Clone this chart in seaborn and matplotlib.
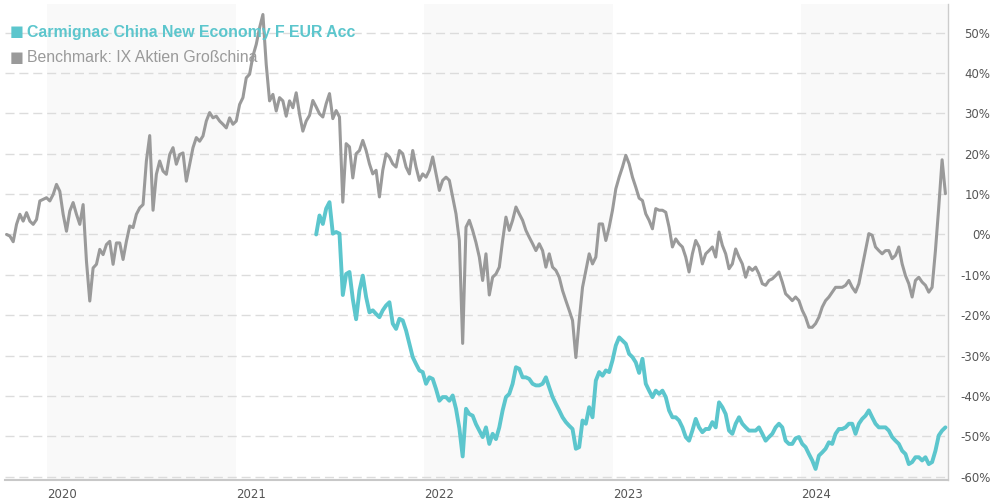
import pandas as pd
import matplotlib.pyplot as plt
import seaborn as sns

bench_start = "2019-10-14"
bench_end = "2024-10-07"
bench_vals = [
    0.0, -0.4, -1.8, 2.5, 5.0, 3.3, 5.4, 3.3, 2.5, 3.7,
    8.3, 8.7, 9.1, 8.3, 9.9, 12.4, 10.7, 5.0, 0.8, 5.8,
    7.9, 5.0, 2.5, 7.4, -6.6, -16.5, -8.3, -7.4, -3.7, -5.0,
    -2.5, -1.7, -7.4, -2.1, -2.1, -6.2, -1.7, 2.1, 1.7, 5.0,
    6.6, 7.4, 18.2, 24.5, 6.0, 14.9, 18.2, 15.7, 14.9, 19.8,
    21.5, 17.4, 19.8, 20.2, 13.2, 17.4, 21.5, 24.0, 23.1, 24.4,
    28.1, 30.2, 28.9, 29.3, 28.1, 27.3, 26.4, 28.9, 27.3, 28.1,
    32.2, 33.9, 38.8, 39.7, 44.2, 47.1, 51.2, 54.5, 42.1, 33.1,
    34.7, 30.6, 33.9, 33.1, 29.3, 33.1, 31.4, 35.1, 29.8, 25.6,
    28.1, 29.5, 33.2, 31.6, 29.9, 29.1, 32.4, 34.9, 28.7, 30.7,
    29.1, 8.0, 22.5, 21.7, 14.0, 20.0, 20.8, 23.3, 20.8, 17.5,
    15.0, 15.9, 9.3, 15.9, 20.0, 19.2, 17.5, 16.7, 20.8, 20.0,
    16.7, 15.0, 20.8, 16.7, 13.4, 15.0, 14.2, 15.9, 19.2, 15.0,
    10.9, 13.4, 14.2, 13.4, 9.3, 5.1, -1.5, -27.0, 1.8, 3.5,
    1.0, -2.0, -5.6, -11.4, -4.8, -15.0, -10.6, -9.8, -8.1, -1.5,
    4.3, 1.0, 3.5, 6.8, 5.1, 3.5, 1.0, -0.7, -2.3, -4.0,
    -2.3, -4.0, -8.1, -4.8, -8.1, -8.9, -10.6, -13.9, -16.4, -18.8,
    -21.3, -30.5, -21.3, -13.1, -8.9, -4.8, -7.3, -5.6, 2.6, 2.6,
    -1.5, 1.8, 6.0, 11.3, 14.2, 16.7, 19.6, 17.5, 14.2, 11.7,
    9.0, 8.4, 5.1, 3.5, 1.4, 6.4, 6.0, 6.0, 5.5, 1.8,
    -3.1, -1.1, -2.3, -3.1, -5.6, -9.3, -4.8, -1.5, -3.1, -7.3,
    -4.8, -4.0, -3.1, -5.6, 0.6, -2.7, -4.8, -8.5, -7.3, -3.6,
    -5.6, -7.3, -10.6, -8.1, -8.9, -8.1, -9.8, -12.2, -12.6, -11.4,
    -11.0, -10.2, -9.3, -11.8, -14.7, -15.5, -16.4, -15.5, -16.4, -18.8,
    -20.5, -23.0, -23.0, -22.1, -20.5, -18.0, -16.4, -15.5, -14.3, -13.1,
    -13.1, -13.1, -12.6, -11.4, -13.1, -14.3, -12.2, -8.1, -4.0, 0.2,
    -0.2, -3.1, -4.0, -4.8, -4.0, -4.0, -6.0, -5.2, -3.1, -7.3,
    -10.2, -12.2, -15.5, -11.4, -10.6, -11.8, -12.6, -14.3, -13.1, -4.0,
    6.8, 18.5, 10.1,
]

# Fonds startet spaeter (ab Punkt 93 des Rasters)
fund_offset = 93
fund_vals = [
    0.0, 4.7, 2.6, 6.4, 8.0, 0.2, 0.6, 0.2, -15.0, -9.8,
    -9.3, -16.0, -21.0, -13.9, -10.2, -15.5, -19.3, -18.8, -19.7, -20.5,
    -18.8, -17.6, -16.8, -22.1, -23.4, -20.9, -21.3, -23.8, -27.1, -30.4,
    -32.1, -33.7, -34.1, -37.0, -35.4, -35.8, -38.3, -41.2, -40.3, -40.3,
    -41.2, -39.9, -43.2, -48.0, -55.0, -43.2, -44.5, -44.9, -47.0, -48.6,
    -50.2, -47.8, -51.9, -49.4, -50.7, -47.8, -43.6, -40.3, -39.5, -37.0,
    -32.9, -33.3, -35.4, -35.4, -35.8, -37.0, -37.4, -37.4, -37.0, -35.4,
    -37.9, -40.3, -42.0, -43.6, -45.3, -46.5, -47.4, -48.2, -53.1, -52.7,
    -46.1, -46.9, -42.8, -45.3, -36.2, -34.1, -35.0, -33.7, -34.1, -31.2,
    -27.5, -25.5, -26.3, -27.1, -29.6, -30.4, -31.7, -34.3, -30.8, -37.0,
    -38.7, -40.3, -38.7, -39.5, -38.7, -40.3, -43.6, -45.3, -45.3, -46.1,
    -47.8, -50.2, -51.1, -48.6, -45.7, -47.8, -49.0, -48.2, -48.2, -46.5,
    -47.8, -41.6, -42.8, -44.5, -48.6, -49.4, -46.9, -45.3, -46.9, -47.8,
    -48.6, -48.6, -48.6, -47.8, -49.4, -51.1, -50.2, -49.4, -47.8, -46.9,
    -47.8, -51.1, -51.9, -51.9, -50.5, -50.2, -51.9, -52.7, -54.4, -56.0,
    -58.1, -54.8, -54.0, -53.1, -51.5, -51.9, -49.4, -48.2, -48.2, -47.8,
    -46.9, -46.9, -49.4, -46.9, -45.7, -44.9, -43.6, -45.3, -46.9, -47.8,
    -47.8, -47.8, -48.6, -50.2, -51.1, -51.9, -53.6, -54.4, -56.9, -56.4,
    -55.2, -55.2, -56.0, -55.2, -56.9, -56.4, -53.6, -49.8, -48.6, -47.8,
]

years = [2020, 2021, 2022, 2023, 2024]
shaded_years = [2020, 2022, 2024]
pct_ticks = [-60, -50, -40, -30, -20, -10, 0, 10, 20, 30, 40, 50]

fund_name = "Carmignac China New Economy F EUR Acc"
bench_name = "Benchmark: IX Aktien Großchina"
teal = "#5cc6cd"
grey = "#9a9a9a"

dates = pd.date_range(bench_start, bench_end, periods=len(bench_vals))
df_bench = pd.DataFrame({"date": dates, "value": bench_vals})
df_fund = pd.DataFrame({"date": dates[fund_offset:], "value": fund_vals})

sns.set_style("white")
plt.rcParams["font.family"] = ["DejaVu Sans"]

fig = plt.figure(figsize=(9.9, 5.03), dpi=100)
ax = fig.add_axes([5 / 990, 23 / 503, 943 / 990, 476 / 503])

# hellgraue Jahresbaender
for yr in shaded_years:
    ax.axvspan(pd.Timestamp(f"{yr}-01-01"), pd.Timestamp(f"{yr + 1}-01-01"),
               color="#f9f9f9", lw=0, zorder=0)

for v in pct_ticks:
    ax.axhline(v, color="#dcdcdc", lw=1.0, dashes=(6.5, 3.5), zorder=1)

sns.lineplot(data=df_bench, x="date", y="value", ax=ax, color=grey, lw=2.2, zorder=3)
sns.lineplot(data=df_fund, x="date", y="value", ax=ax, color=teal, lw=2.8, zorder=4)

ax.set_xlim(pd.Timestamp("2019-10-11"), pd.Timestamp("2024-10-12"))
ax.set_ylim(-60.84, 57.1)
ax.set_xlabel("")
ax.set_ylabel("")

ax.set_yticks(pct_ticks)
ax.set_yticklabels([f"{v}%" for v in pct_ticks])
ax.yaxis.tick_right()
ax.tick_params(axis="y", length=0, pad=30.5, labelsize=8.5, labelcolor="#555555")
for lbl in ax.get_yticklabels():
    lbl.set_ha("right")

ax.set_xticks([pd.Timestamp(f"{y}-01-01") for y in years])
ax.set_xticklabels([str(y) for y in years])
ax.tick_params(axis="x", length=0, pad=6, labelsize=8.5, labelcolor="#555555")
for lbl in ax.get_xticklabels():
    lbl.set_ha("left")

for side in ["left", "top"]:
    ax.spines[side].set_visible(False)
ax.spines["right"].set_color("#cccccc")
ax.spines["right"].set_linewidth(1.0)
ax.spines["bottom"].set_color("#c8c8c8")
ax.spines["bottom"].set_linewidth(1.5)

# Legende oben links
fig.text(10 / 990, 1 - 32 / 503, "■", color=teal, fontsize=10.5, va="center")
fig.text(27 / 990, 1 - 32 / 503, fund_name, color=teal, fontsize=11.4,
         fontweight="bold", family=["Liberation Sans", "DejaVu Sans"], va="center")
fig.text(10 / 990, 1 - 57 / 503, "■", color=grey, fontsize=10.5, va="center")
fig.text(27 / 990, 1 - 57 / 503, bench_name, color=grey, fontsize=11.4,
         family=["Liberation Sans", "DejaVu Sans"], va="center")

fig.savefig("out.png", dpi=100)
